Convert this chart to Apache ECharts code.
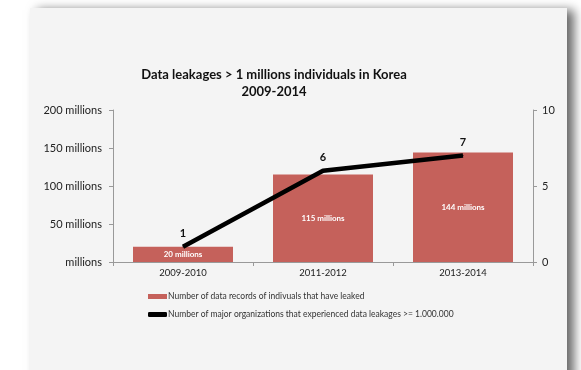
<!DOCTYPE html>
<html><head><meta charset="utf-8">
<script src="https://cdn.jsdelivr.net/npm/echarts@6/dist/echarts.min.js"></script>
<style>html,body{margin:0;padding:0;background:#fff}#c{width:581px;height:370px}</style>
</head><body><div id="c"></div>
<script>
const categories = ['2009-2010', '2011-2012', '2013-2014'];
const recordsLeaked = [20, 115, 144];          // millions
const organizations = [1, 6, 7];
const leftTicks = {min: 0, max: 200, interval: 50};
const rightTicks = {min: 0, max: 10, interval: 5};
const barName = 'Number of data records of indivuals that have leaked';
const lineName = 'Number of major organizations that experienced data leakages >= 1.000.000';

const font = 'Lato, "Open Sans", sans-serif';
const chart = echarts.init(document.getElementById('c'));
chart.setOption({
  backgroundColor: '#ffffff',
  animation: false,
  graphic: [{
    type: 'rect', z: -100, silent: true,
    shape: {x: 30, y: 8, width: 537, height: 400},
    style: {fill: '#f4f4f4', shadowBlur: 10, shadowOffsetX: 7, shadowOffsetY: 2, shadowColor: 'rgba(0,0,0,0.6)'}
  }],
  title: {
    text: 'Data leakages > 1 millions individuals in Korea\n2009-2014',
    left: 269, textAlign: 'center', top: 61,
    textStyle: {fontFamily: font, fontSize: 13, fontWeight: 'bold', color: '#111', lineHeight: 17}
  },
  legend: {
    orient: 'vertical', left: 143, top: 287, itemGap: 9, itemWidth: 19, itemHeight: 5,
    textStyle: {fontFamily: font, fontSize: 8.5, color: '#333', padding: [0, 0, 0, -4]},
    data: [{name: barName, icon: 'rect'}, {name: lineName, icon: 'roundRect'}]
  },
  grid: {left: 113, right: 48, top: 110, bottom: 108, containLabel: false},
  xAxis: {
    type: 'category', data: categories,
    axisLine: {lineStyle: {color: '#999'}},
    axisTick: {show: true, length: 4, lineStyle: {color: '#999'}},
    axisLabel: {fontFamily: font, fontSize: 9.5, color: '#222', margin: 6}
  },
  yAxis: [{
    type: 'value', min: leftTicks.min, max: leftTicks.max, interval: leftTicks.interval,
    splitLine: {show: false},
    axisLine: {show: true, lineStyle: {color: '#999'}},
    axisTick: {show: true, length: 4, lineStyle: {color: '#999'}},
    axisLabel: {fontFamily: font, fontSize: 11, color: '#222', margin: 11,
      formatter: v => v === 0 ? 'millions' : v + ' millions'}
  }, {
    type: 'value', min: rightTicks.min, max: rightTicks.max, interval: rightTicks.interval,
    position: 'right', splitLine: {show: false},
    axisLine: {show: true, lineStyle: {color: '#999'}},
    axisTick: {show: true, length: 4, lineStyle: {color: '#999'}},
    axisLabel: {fontFamily: font, fontSize: 11, color: '#222', margin: 9}
  }],
  series: [{
    name: barName, type: 'bar', data: recordsLeaked, barWidth: 100,
    itemStyle: {color: '#c5615b'},
    label: {show: true, position: 'inside', color: '#fff', fontFamily: font, fontSize: 8, fontWeight: 'bold',
      formatter: p => p.value + ' millions'}
  }, {
    name: lineName, type: 'line', yAxisIndex: 1, data: organizations,
    symbol: 'circle', symbolSize: 1, showSymbol: true,
    lineStyle: {color: '#000', width: 4.5}, itemStyle: {color: '#000'},
    label: {show: true, position: 'top', distance: 7, color: '#111', fontFamily: font, fontSize: 11, fontWeight: 'bold'}
  }]
});
</script></body></html>
